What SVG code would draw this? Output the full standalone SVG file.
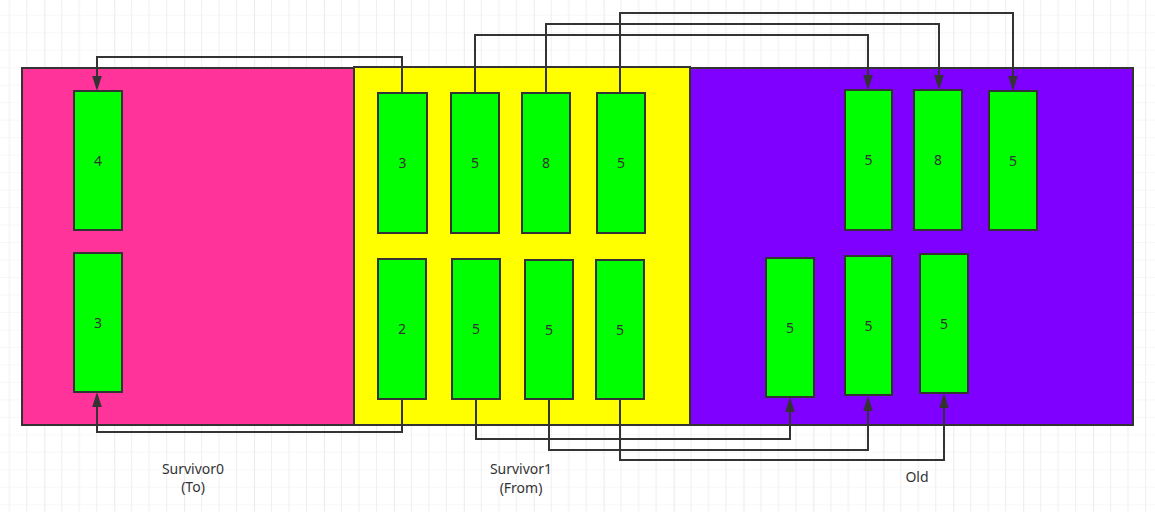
<svg xmlns="http://www.w3.org/2000/svg" width="1155" height="512" viewBox="0 0 1155 512">
  <style>
    .cont { stroke: #333333; stroke-width: 2; }
    .box { fill: #00FF00; stroke: #333333; stroke-width: 2; }
    .num { font-family: "Noto Sans", "Liberation Sans", sans-serif; font-size: 14px; fill: #333333; text-anchor: middle; }
    .lbl { font-family: "Noto Sans", "Liberation Sans", sans-serif; font-size: 14px; fill: #333333; text-anchor: middle; }
    .conn { fill: none; stroke: #333333; stroke-width: 2; }
  </style>
  <defs>
    <pattern id="grid" patternUnits="userSpaceOnUse" x="-25.62" y="-2.68" width="69.92" height="17.48">
      <line x1="17.48" y1="0" x2="17.48" y2="17.48" stroke="#efefef" stroke-width="1"/>
      <line x1="34.96" y1="0" x2="34.96" y2="17.48" stroke="#efefef" stroke-width="1"/>
      <line x1="52.44" y1="0" x2="52.44" y2="17.48" stroke="#efefef" stroke-width="1"/>
      <line x1="0" y1="0" x2="69.92" y2="0" stroke="#efefef" stroke-width="1"/>
      <line x1="0" y1="0" x2="0" y2="17.48" stroke="#ebebeb" stroke-width="2"/>
    </pattern>
    <marker id="arrow" markerUnits="userSpaceOnUse" markerWidth="16" markerHeight="11" refX="0" refY="5" orient="auto">
      <path d="M0,0.2 L15,5 L0,9.8 Z" fill="#333333"/>
    </marker>
  </defs>
  <rect x="0" y="0" width="1155" height="512" fill="#ffffff"/>
  <rect x="0" y="0" width="1155" height="512" fill="url(#grid)"/>

  <g id="survivor0-area"><rect class="cont" x="22" y="68" width="332" height="357" fill="#FF3399"/></g>
  <g id="survivor1-area"><rect class="cont" x="354" y="67" width="336" height="358" fill="#FFFF00"/></g>
  <g id="old-area"><rect class="cont" x="690" y="68" width="443" height="357" fill="#7F00FF"/></g>

  <g id="connectors">
    <path class="conn" d="M402,93 V57 H97 V76" marker-end="url(#arrow)"/>
    <path class="conn" d="M475,93 V35 H868 V75" marker-end="url(#arrow)"/>
    <path class="conn" d="M546,93 V24 H939 V75" marker-end="url(#arrow)"/>
    <path class="conn" d="M620,93 V13 H1013 V76" marker-end="url(#arrow)"/>
    <path class="conn" d="M402,399 V432 H97 V407" marker-end="url(#arrow)"/>
    <path class="conn" d="M476,399 V439 H790 V412" marker-end="url(#arrow)"/>
    <path class="conn" d="M549,399 V450 H868 V411" marker-end="url(#arrow)"/>
    <path class="conn" d="M620,399 V460 H944 V408" marker-end="url(#arrow)"/>
  </g>

  <g id="s0-top"><rect class="box" x="74" y="91" width="48" height="139"/><text class="num" x="98" y="165.5">4</text></g>
  <g id="s0-bottom"><rect class="box" x="74" y="253" width="48" height="139"/><text class="num" x="98" y="327.5">3</text></g>

  <g id="s1-top1"><rect class="box" x="378" y="93" width="49" height="140"/><text class="num" x="402.5" y="168">3</text></g>
  <g id="s1-top2"><rect class="box" x="451" y="93" width="48" height="140"/><text class="num" x="475" y="168">5</text></g>
  <g id="s1-top3"><rect class="box" x="522" y="93" width="48" height="140"/><text class="num" x="546" y="168">8</text></g>
  <g id="s1-top4"><rect class="box" x="597" y="93" width="48" height="140"/><text class="num" x="621" y="168">5</text></g>
  <g id="s1-bot1"><rect class="box" x="378" y="259" width="48" height="140"/><text class="num" x="402" y="334">2</text></g>
  <g id="s1-bot2"><rect class="box" x="452" y="259" width="48" height="140"/><text class="num" x="476" y="334">5</text></g>
  <g id="s1-bot3"><rect class="box" x="525" y="260" width="48" height="139"/><text class="num" x="549" y="334.5">5</text></g>
  <g id="s1-bot4"><rect class="box" x="596" y="260" width="48" height="139"/><text class="num" x="620" y="334.5">5</text></g>

  <g id="old-top1"><rect class="box" x="845" y="90" width="47" height="140"/><text class="num" x="868.5" y="165">5</text></g>
  <g id="old-top2"><rect class="box" x="914" y="90" width="48" height="140"/><text class="num" x="938" y="165">8</text></g>
  <g id="old-top3"><rect class="box" x="989" y="91" width="48" height="139"/><text class="num" x="1013" y="165.5">5</text></g>
  <g id="old-bot1"><rect class="box" x="766" y="258" width="48" height="139"/><text class="num" x="790" y="332.5">5</text></g>
  <g id="old-bot2"><rect class="box" x="845" y="256" width="47" height="139"/><text class="num" x="868.5" y="330.5">5</text></g>
  <g id="old-bot3"><rect class="box" x="920" y="254" width="48" height="139"/><text class="num" x="944" y="328.5">5</text></g>

  <g id="label-survivor0">
    <text class="lbl" x="193" y="473.5">Survivor0</text>
    <text class="lbl" x="193" y="492">(To)</text>
  </g>
  <g id="label-survivor1">
    <text class="lbl" x="521" y="474">Survivor1</text>
    <text class="lbl" x="521" y="492.5">(From)</text>
  </g>
  <g id="label-old">
    <text class="lbl" x="917" y="481.5">Old</text>
  </g>
</svg>
